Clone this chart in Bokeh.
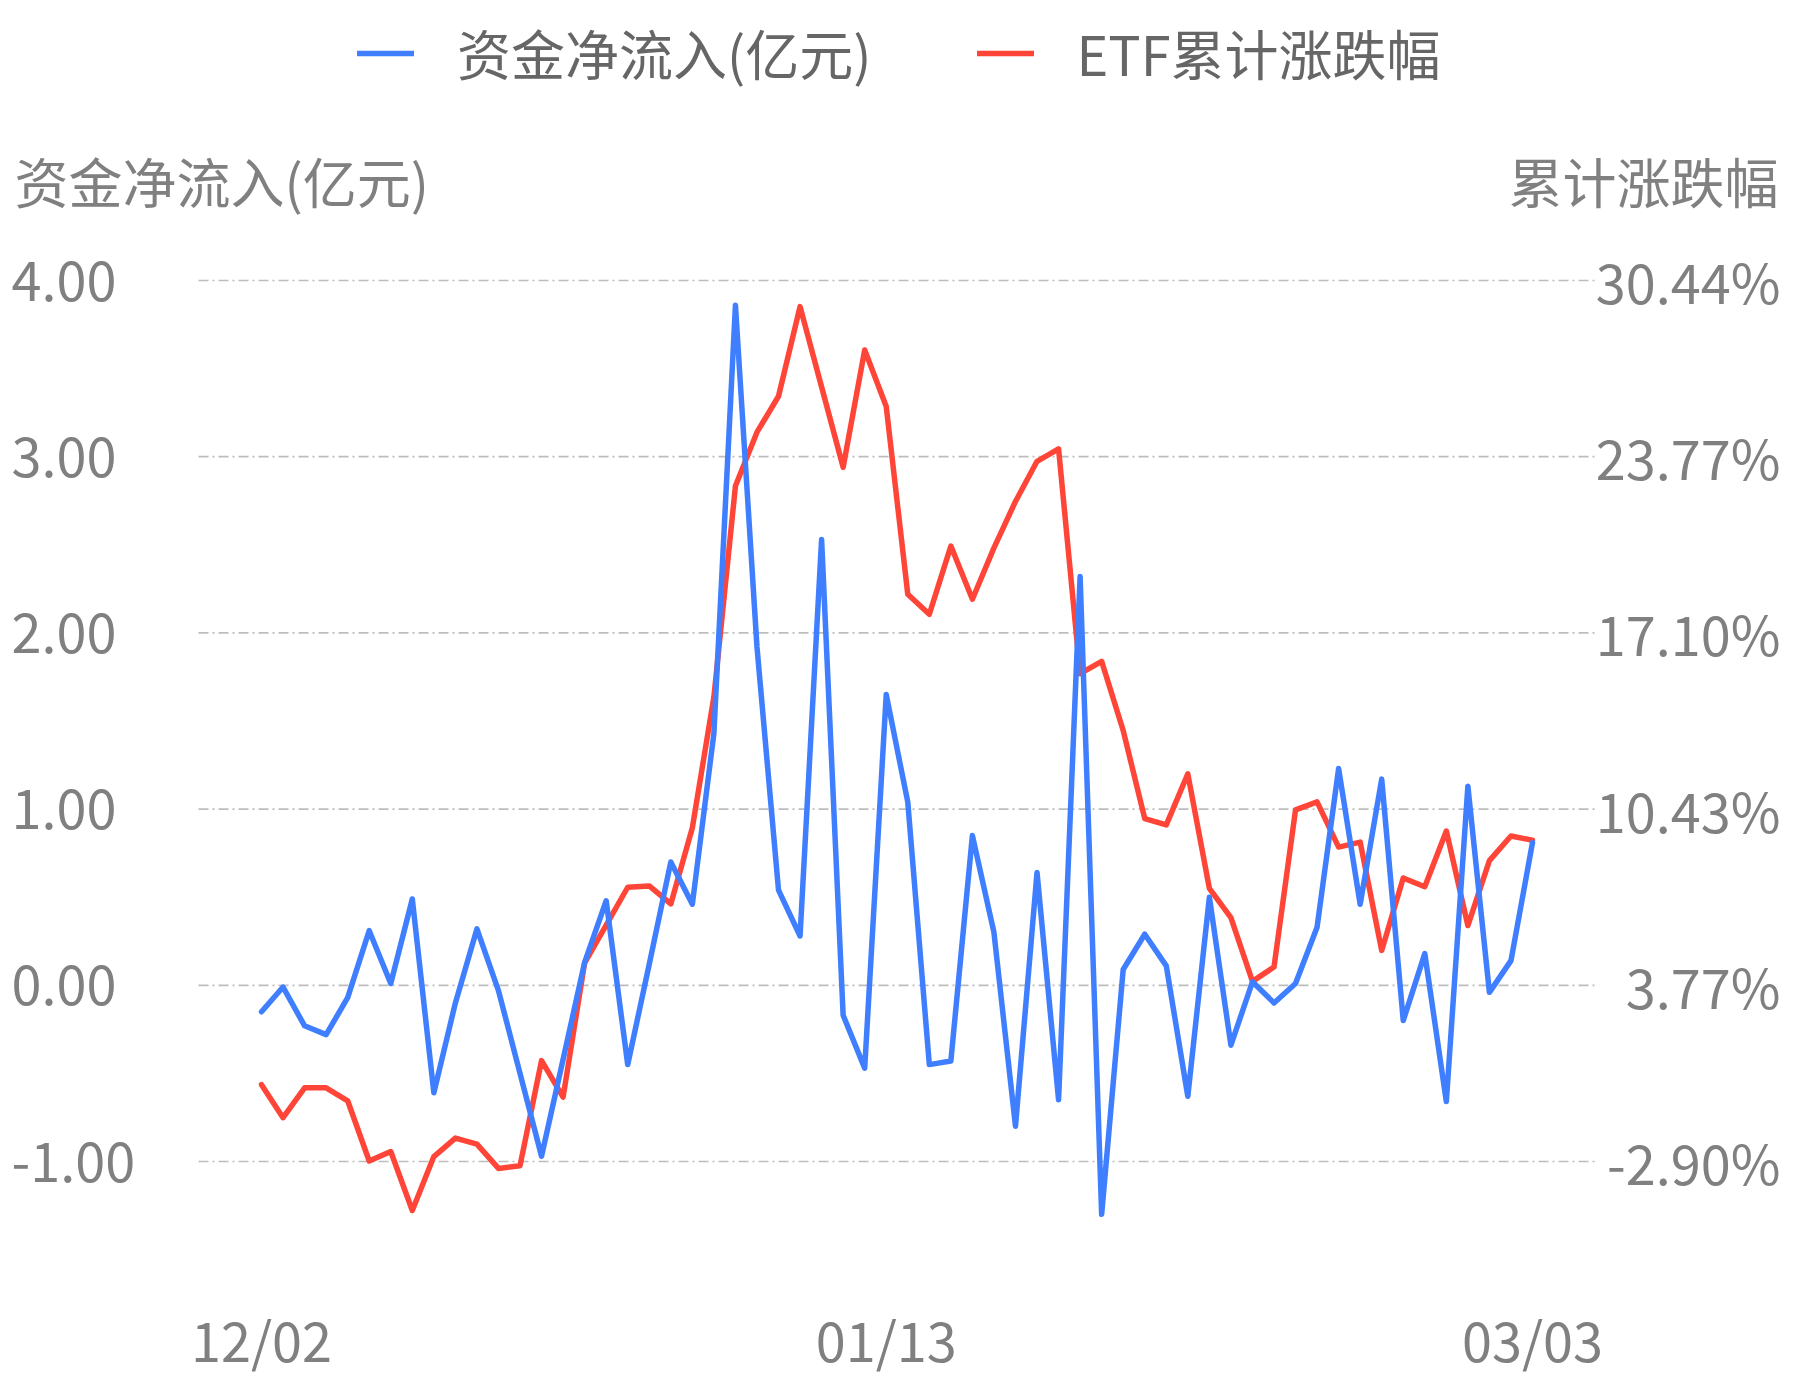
from bokeh.plotting import figure
from bokeh.models import (Range1d, Legend, LegendItem, Label, LabelSet, ColumnDataSource)
from bokeh.core.properties import value
from bokeh.embed import file_html
from bokeh.resources import INLINE

# ---------------- data ----------------
dates = ["12/02", "12/05", "12/06", "12/07", "12/08", "12/09", "12/12", "12/13", "12/14", "12/15",
         "12/16", "12/19", "12/20", "12/21", "12/22", "12/23", "12/26", "12/27", "12/28", "12/29",
         "12/30", "01/03", "01/04", "01/05", "01/06", "01/09", "01/10", "01/11", "01/12", "01/13",
         "01/16", "01/17", "01/18", "01/19", "01/20", "01/30", "01/31", "02/01", "02/02", "02/03",
         "02/06", "02/07", "02/08", "02/09", "02/10", "02/13", "02/14", "02/15", "02/16", "02/17",
         "02/20", "02/21", "02/22", "02/23", "02/24", "02/27", "02/28", "03/01", "03/02", "03/03"]

net_inflow = [-0.15, -0.01, -0.23, -0.28, -0.07, 0.31, 0.01, 0.49, -0.61, -0.10,
              0.32, -0.03, -0.50, -0.97, -0.42, 0.13, 0.48, -0.45, 0.12, 0.70,
              0.46, 1.43, 3.86, 1.92, 0.54, 0.28, 2.53, -0.17, -0.47, 1.65,
              1.04, -0.45, -0.43, 0.85, 0.30, -0.80, 0.64, -0.65, 2.32, -1.30,
              0.09, 0.29, 0.11, -0.63, 0.50, -0.34, 0.02, -0.10, 0.01, 0.33,
              1.23, 0.46, 1.17, -0.20, 0.18, -0.66, 1.13, -0.04, 0.14, 0.81]

etf_cum = [0.01, -1.24, -0.11, -0.11, -0.60, -2.88, -2.52, -4.75, -2.71, -2.01,
           -2.24, -3.16, -3.06, 0.92, -0.46, 4.62, 6.05, 7.48, 7.53, 6.85,
           9.73, 14.68, 22.66, 24.70, 26.06, 29.45, 26.41, 23.37, 27.81, 25.67,
           18.57, 17.81, 20.39, 18.38, 20.32, 22.08, 23.60, 24.07, 15.56, 16.03,
           13.41, 10.08, 9.84, 11.77, 7.44, 6.33, 3.92, 4.46, 10.41, 10.71,
           9.00, 9.19, 5.09, 7.83, 7.50, 9.61, 6.03, 8.49, 9.42, 9.26]

left_ticks = [-1.0, 0.0, 1.0, 2.0, 3.0, 4.0]
left_tick_labels = ["-1.00", "0.00", "1.00", "2.00", "3.00", "4.00"]
right_tick_labels = ["-2.90%", "3.77%", "10.43%", "17.10%", "23.77%", "30.44%"]
x_label_idx = [0, 29, 59]

series_names = ["资金净流入(亿元)", "ETF累计涨跌幅"]
left_title = "资金净流入(亿元)"
right_title = "累计涨跌幅"

# ---------------- styling / layout (pixels) ----------------
FONT = "Noto Sans CJK SC"
FS = "54px"
BLUE = "#3F7FFF"
RED = "#FF4538"
GREY = "#808080"
LEGEND_GREY = "#666666"

W, H = 1793, 1380
PLOT_L, PLOT_R = 198, 1597          # extent of the grid lines
PX_FIRST, PX_LAST = 261, 1532       # columns of first / last date
PX_TOP, PX_BOT = 280, 1161          # rows of the top / bottom grid line

n = len(dates)
dx = (PX_LAST - PX_FIRST) / (n - 1)
dy = (PX_BOT - PX_TOP) / (left_ticks[-1] - left_ticks[0])
x_start, x_end = -PX_FIRST / dx, (W - PX_FIRST) / dx
y_end = left_ticks[-1] + PX_TOP / dy
y_start = left_ticks[-1] - (H - PX_TOP) / dy

# right axis: linear map of the left ticks onto the percentage labels
r_at0 = float(right_tick_labels[1].rstrip("%"))
r_top = float(right_tick_labels[-1].rstrip("%"))
k = (r_top - r_at0) / left_ticks[-1]

p = figure(width=W, height=H, output_backend="svg", toolbar_location=None,
           x_range=Range1d(x_start, x_end), y_range=Range1d(y_start, y_end),
           x_axis_location=None, y_axis_location=None,
           min_border=0, min_border_left=0, min_border_right=0,
           min_border_top=0, min_border_bottom=0)
p.title.visible = False
p.extra_y_ranges = {"right": Range1d(r_at0 + k * y_start, r_at0 + k * y_end)}
p.outline_line_color = None
p.background_fill_color = "white"
p.border_fill_color = "white"
p.grid.visible = False

# dash-dot grid lines between the plot edges, at the left tick values
gx0 = (PLOT_L - PX_FIRST) / dx
gx1 = (PLOT_R - PX_FIRST) / dx
p.segment(x0=[gx0] * len(left_ticks), x1=[gx1] * len(left_ticks), y0=left_ticks, y1=left_ticks,
          line_color="#bdbdbd", line_width=1.7, line_dash="10 4 2 4")

xs = list(range(n))
src = ColumnDataSource(dict(x=xs, inflow=net_inflow, cum=etf_cum))

r_red = p.line("x", "cum", source=src, line_color=RED, line_width=5.5,
               line_join="round", line_cap="round", y_range_name="right")
r_blue = p.line("x", "inflow", source=src, line_color=BLUE, line_width=5.5,
                line_join="round", line_cap="round")

# tick labels
tick_src = ColumnDataSource(dict(y=left_ticks, lt=left_tick_labels, rt=right_tick_labels))
p.add_layout(LabelSet(x=11, y="y", text="lt", x_units="screen", y_units="data", source=tick_src,
                      text_align="left", text_baseline="middle",
                      text_font=value(FONT), text_font_size=value(FS), text_color=GREY))
p.add_layout(LabelSet(x=1780, y="y", text="rt", x_units="screen", y_units="data", source=tick_src,
                      text_align="right", text_baseline="middle",
                      text_font=value(FONT), text_font_size=value(FS), text_color=GREY))
xsrc = ColumnDataSource(dict(x=x_label_idx, t=[dates[i] for i in x_label_idx]))
p.add_layout(LabelSet(x="x", y=H - 1338, text="t", x_units="data", y_units="screen", source=xsrc,
                      text_align="center", text_baseline="middle",
                      text_font=value(FONT), text_font_size=value(FS), text_color=GREY))

# axis titles
p.add_layout(Label(x=14, y=H - 180, x_units="screen", y_units="screen",
                   text=left_title, text_align="left", text_baseline="middle",
                   text_font=FONT, text_font_size=FS, text_color=GREY))
p.add_layout(Label(x=1778, y=H - 180, x_units="screen", y_units="screen",
                   text=right_title, text_align="right", text_baseline="middle",
                   text_font=FONT, text_font_size=FS, text_color=GREY))

# legend
legend = Legend(items=[LegendItem(label=series_names[0], renderers=[r_blue]),
                       LegendItem(label=series_names[1], renderers=[r_red])],
                orientation="horizontal", location=(357, H - 92),
                glyph_width=57, glyph_height=60, label_height=60, label_standoff=43,
                spacing=105, padding=0, margin=0,
                border_line_color=None, background_fill_alpha=0,
                label_text_font=FONT, label_text_font_size=FS, label_text_color=LEGEND_GREY)
p.add_layout(legend)

open("out.html", "w").write(file_html(p, INLINE))
